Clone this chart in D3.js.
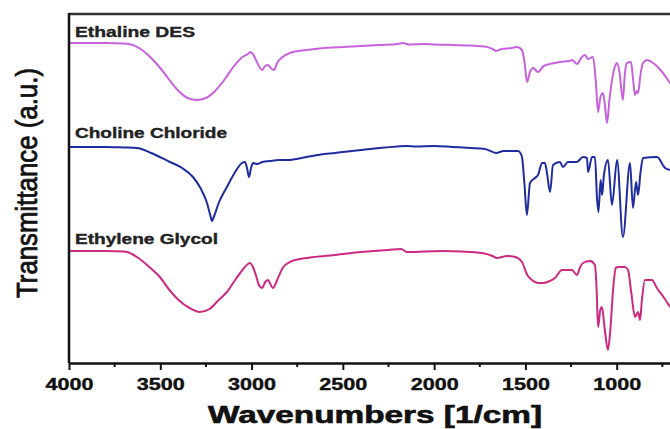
<!DOCTYPE html>
<meta charset="utf-8">
<style>
  body { margin: 0; background: #fff; }
  svg { display: block; }
  .label { font: bold 14px "Liberation Sans", Arial, sans-serif; fill: #222; stroke: #222; stroke-width: 0.35px; }
  .tick text { font: bold 17px "Liberation Sans", Arial, sans-serif; fill: #111; stroke: #111; stroke-width: 0.4px; }
</style>

<script src="https://d3js.org/d3.v7.min.js"></script>

<div id="chart"></div>

<script>
  // FTIR spectra, values: [wavenumber (1/cm), transmittance (a.u., offset)]
  var ethaline = [
    [4000,320],[3800,320],[3700,319.5],[3650,318],[3600,313],[3550,305],[3500,295],[3450,283],
    [3400,272],[3350,265],[3300,263],[3250,265],[3200,272],[3150,283],[3100,296],[3050,306],
    [3020,309],[3005,311],[2990,308],[2960,297],[2943,293],[2925,297],[2910,298],[2895,295],
    [2877,293],[2860,300],[2830,306],[2790,310],[2700,313],[2600,315],[2500,316],[2400,317],
    [2300,318],[2200,319],[2170,320],[2140,318.5],[2050,319],[2000,318.5],[1900,318],[1800,317.5],
    [1722,316.5],[1680,314],[1660,312],[1630,314],[1574,315],[1546,316],[1519,313],[1505,301],
    [1491,281],[1475,291],[1458,295],[1431,291],[1400,297],[1340,300],[1311,301],[1260,302],
    [1245,303],[1217,299],[1195,305],[1174,308],[1157,304],[1130,306],[1115,283],[1102,251],
    [1090,265],[1075,270],[1062,253],[1053,240],[1040,263],[1015,293],[998,300],[985,291],
    [966,263],[955,290],[944,300],[922,301],[910,283],[900,268],[890,272],[883,270],[870,288],
    [856,300],[834,303],[800,300],[760,293],[708,280],[680,273]
  ];

  var choline = [
    [4000,216],[3800,216],[3700,215.5],[3628,215],[3550,210],[3447,201],[3380,195],[3321,186],
    [3280,175],[3244,160],[3225,147],[3217,142],[3205,147],[3180,160],[3135,176],[3090,191],
    [3053,200],[3036,201],[3025,195],[3014,186],[3003,195],[2992,200],[2970,199],[2940,201],
    [2900,202],[2850,203],[2800,203],[2700,206],[2600,209],[2500,211],[2400,213],[2300,215],
    [2200,216.5],[2150,217],[2100,216.5],[2000,217],[1900,216],[1800,215],[1722,214],[1660,210],
    [1620,212],[1541,212],[1520,207],[1505,178],[1492,148],[1475,180],[1448,185],[1431,188],
    [1409,200],[1393,200],[1382,190],[1365,171],[1349,198],[1311,201],[1294,196],[1267,201],
    [1218,201],[1185,206],[1163,205],[1157,191],[1135,206],[1119,206],[1108,165],[1100,151],
    [1088,183],[1080,168],[1070,188],[1048,203],[1026,158],[998,203],[966,126],[927,200],
    [911,155],[894,181],[883,168],[870,190],[856,205],[779,206],[735,195],[708,193]
  ];

  var glycol = [
    [4000,112],[3800,112],[3700,111.5],[3682,111],[3620,105],[3560,96],[3502,86],[3450,73],
    [3400,63],[3340,55],[3283,51],[3230,54],[3180,63],[3135,71],[3090,83],[3050,93],
    [3020,99],[3009,100],[2995,97],[2975,87],[2960,78],[2943,75],[2925,81],[2910,83],
    [2897,79],[2883,75],[2860,83],[2830,95],[2790,101],[2700,105],[2600,107],[2543,108],
    [2400,111],[2250,113],[2180,114],[2150,111],[2050,111.5],[1950,112],[1850,111.5],[1738,110],
    [1680,107],[1656,105],[1600,107],[1555,106],[1519,101],[1490,88],[1464,83],[1431,80],
    [1400,80],[1380,81],[1338,85],[1300,93],[1270,93],[1245,93],[1218,88],[1200,96],
    [1185,100],[1146,102],[1119,98],[1110,73],[1102,36],[1090,53],[1081,56],[1065,33],
    [1048,13],[1035,33],[1020,73],[1005,95],[993,96],[955,96],[938,93],[920,70],
    [900,46],[883,51],[872,43],[862,63],[845,83],[807,83],[780,75],[740,65],[708,56]
  ];

  var seriesNames = ["Ethaline DES", "Choline Chloride", "Ethylene Glycol"];
  var seriesColors = ["#c862dc", "#1f2c9e", "#cc2a80"];
  var seriesData = [ethaline, choline, glycol];

  // the 500 tick falls outside the cropped picture
  var majorTicks = [4000, 3500, 3000, 2500, 2000, 1500, 1000];
  var minorTicks = [3750, 3250, 2750, 2250, 1750, 1250, 750];

  var width = 670, height = 429;
  var plotLeft = 69, plotTop = 14, plotBottom = 363;

  var svg = d3.select("#chart").append("svg")
    .attr("width", width)
    .attr("height", height);

  // x runs past the right edge, the picture is cropped there
  var x = d3.scaleLinear().domain([4000, 400]).range([plotLeft, plotLeft + 3600 * 0.18257]);
  var y = d3.scaleLinear().domain([0, 349]).range([plotBottom, plotTop]);

  // stretch text to a given width (the original uses a wide heavy face)
  function stretch(sel, w) {
    sel.attr("textLength", w).attr("lengthAdjust", "spacingAndGlyphs");
  }

  var line = d3.line()
    .x(function(d) { return x(d[0]); })
    .y(function(d) { return y(d[1]); })
    .curve(d3.curveMonotoneX);

  svg.selectAll(".spectrum")
    .data(seriesData)
    .enter().append("path")
      .attr("class", "spectrum")
      .attr("d", line)
      .attr("fill", "none")
      .attr("stroke", function(d, i) { return seriesColors[i]; })
      .attr("stroke-width", 2)
      .attr("stroke-linejoin", "round");

  // series labels above each flat start
  var labelWidths = [120, 152, 143];
  var labelOffsets = [6, 9, 7];
  seriesNames.forEach(function(name, i) {
    svg.append("text")
      .attr("class", "label")
      .attr("x", 75)
      .attr("y", y(seriesData[i][0][1]) - labelOffsets[i])
      .text(name)
      .call(stretch, labelWidths[i]);
  });

  // frame: top and left spines
  svg.append("line")
    .attr("x1", plotLeft).attr("x2", width)
    .attr("y1", plotTop).attr("y2", plotTop)
    .attr("stroke", "#333").attr("stroke-width", 2.5);
  svg.append("line")
    .attr("x1", plotLeft).attr("x2", plotLeft)
    .attr("y1", plotTop - 1).attr("y2", plotBottom)
    .attr("stroke", "#111").attr("stroke-width", 2.5);

  // bottom axis
  var xAxis = svg.append("g")
    .attr("transform", "translate(0," + plotBottom + ")")
    .call(d3.axisBottom(x).tickValues(majorTicks).tickSize(7).tickSizeOuter(0).tickPadding(7).tickFormat(d3.format("d")));
  xAxis.select(".domain").attr("stroke", "#111").attr("stroke-width", 2.5);
  xAxis.selectAll(".tick line").attr("stroke", "#111").attr("stroke-width", 2);
  xAxis.selectAll(".tick text").attr("dy", "0.75em").each(function() {
    d3.select(this).call(stretch, 48);
  });

  svg.append("g")
    .attr("transform", "translate(0," + plotBottom + ")")
    .selectAll("line")
    .data(minorTicks)
    .enter().append("line")
      .attr("x1", x).attr("x2", x)
      .attr("y1", 0).attr("y2", 4)
      .attr("stroke", "#111").attr("stroke-width", 2);

  // axis titles
  svg.append("text")
    .attr("x", 208)
    .attr("y", 423)
    .style("font", "bold 23px 'Liberation Sans', Arial, sans-serif")
    .attr("fill", "#111")
    .attr("stroke", "#111")
    .attr("stroke-width", 0.6)
    .text("Wavenumbers [1/cm]")
    .call(stretch, 334);

  svg.append("text")
    .attr("transform", "translate(37,298) rotate(-90)")
    .style("font", "29px 'Liberation Sans', Arial, sans-serif")
    .attr("fill", "#111")
    .attr("stroke", "#111")
    .attr("stroke-width", 0.8)
    .text("Transmittance (a.u.)")
    .call(stretch, 230);
</script>
